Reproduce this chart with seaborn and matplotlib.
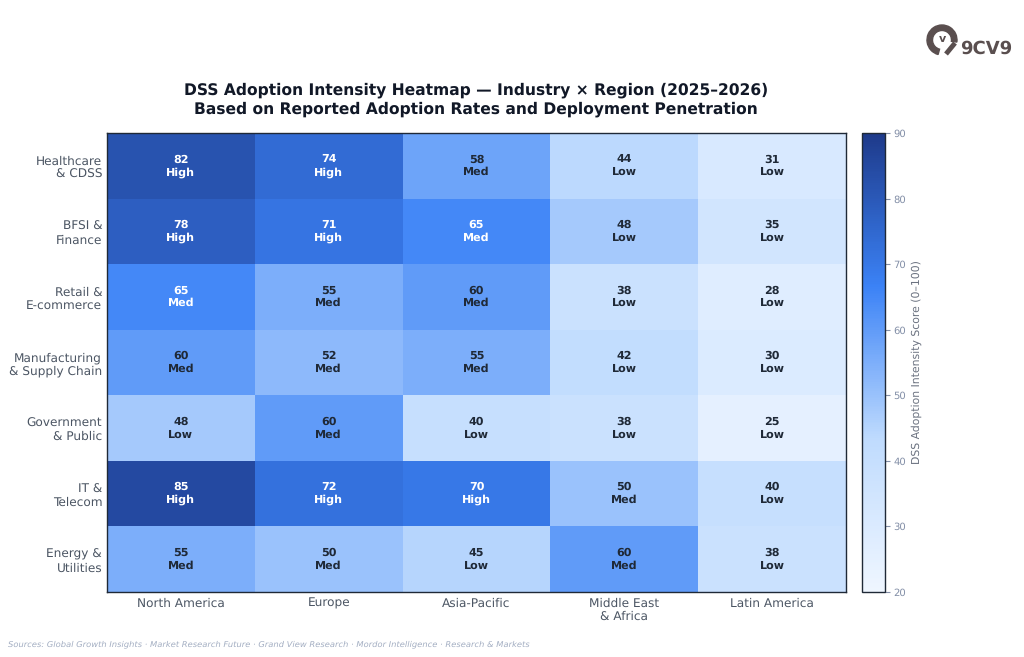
import matplotlib
matplotlib.use('Agg')
import matplotlib.pyplot as plt
from matplotlib.colors import LinearSegmentedColormap
from matplotlib.patches import Wedge
import numpy as np
import pandas as pd
import seaborn as sns

plt.rcParams['text.hinting'] = 'no_hinting'

industries = ['Healthcare\n& CDSS', 'BFSI &\nFinance', 'Retail &\nE-commerce',
              'Manufacturing\n& Supply Chain', 'Government\n& Public', 'IT &\nTelecom',
              'Energy &\nUtilities']
regions = ['North America', 'Europe', 'Asia-Pacific', 'Middle East\n& Africa', 'Latin America']

north_america = [82, 78, 65, 60, 48, 85, 55]
europe = [74, 71, 55, 52, 60, 72, 50]
asia_pacific = [58, 65, 60, 55, 40, 70, 45]
middle_east = [44, 48, 38, 42, 38, 50, 60]
latin_america = [31, 35, 28, 30, 25, 40, 38]

W, H = 1024, 657


def band(v):
    if v >= 70:
        return 'High'
    if v >= 50:
        return 'Med'
    return 'Low'


df = pd.DataFrame(
    np.array([north_america, europe, asia_pacific, middle_east, latin_america]).T,
    index=industries, columns=regions)

cmap = LinearSegmentedColormap.from_list('dss', ['#EFF6FF', '#BFDBFE', '#3B82F6', '#1E3A8A'])

fig = plt.figure(figsize=(W / 100, H / 100), dpi=100, facecolor='white')
ax = fig.add_axes([107 / W, 1 - 592 / H, 739 / W, 459 / H])
cax = fig.add_axes([862 / W, 1 - 592 / H, 23 / W, 459 / H])

sns.heatmap(df, ax=ax, cbar_ax=cax, cmap=cmap, vmin=20, vmax=90, linewidths=0,
            cbar_kws={'label': 'DSS Adoption Intensity Score (0–100)'})

# cell labels
for i, row in enumerate(df.values):
    for j, v in enumerate(row):
        col = 'white' if v >= 65 else '#1F2937'
        ax.text(j + 0.5, i + 0.5, f'{v}\n{band(v)}', ha='center', va='center',
                fontsize=8.0, fontweight='bold', color=col, linespacing=1.25)

ax.tick_params(axis='both', length=0, labelsize=8.7, labelcolor='#4B5563')
ax.set_xticklabels(regions, rotation=0)
ax.set_yticklabels(industries, rotation=0, ha='right', va='center_baseline')
ax.tick_params(axis='x', pad=4)
ax.tick_params(axis='y', pad=3.5)
for s in ax.spines.values():
    s.set_visible(True)
    s.set_color('#1F2937')
    s.set_linewidth(1.0)

cax.tick_params(labelsize=7.2, labelcolor='#8490A8', color='#8490A8', length=3.5, width=0.8, pad=2.5)
cax.yaxis.label.set_color('#6B7280')
cax.yaxis.label.set_size(7.8)
cax.yaxis.labelpad = 3.5
cbar = ax.collections[0].colorbar
cbar.outline.set_visible(True)
cbar.outline.set_edgecolor('#1F2937')
cbar.outline.set_linewidth(1.0)

fig.text(476 / W, 1 - 99.5 / H,
         'DSS Adoption Intensity Heatmap — Industry × Region (2025–2026)\n'
         'Based on Reported Adoption Rates and Deployment Penetration',
         ha='center', va='center', fontsize=11.2, fontweight='bold', color='#111827',
         linespacing=1.25)
fig.text(8 / W, 1 - 644 / H,
         'Sources: Global Growth Insights · Market Research Future · Grand View Research · '
         'Mordor Intelligence · Research & Markets',
         ha='left', va='center', fontsize=6.0, style='italic', color='#A3AEC2')

# logo, drawn in pixel coordinates
logo = fig.add_axes([0, 0, 1, 1], facecolor='none')
logo.set_xlim(0, W)
logo.set_ylim(H, 0)
logo.axis('off')
logo_col = '#5A4F4F'
logo.add_patch(Wedge((942, 40), 15, 105, 368, width=5.5, color=logo_col))
logo.plot([946, 955], [54, 43], color=logo_col, lw=3.5, solid_capstyle='butt')
logo.text(942, 39, 'v', ha='center', va='center', fontsize=8, fontweight='bold', color=logo_col)
logo.text(986, 49, '9CV9', ha='center', va='center', fontsize=13, fontweight='bold', color=logo_col)

fig.savefig('out.png', dpi=100)
